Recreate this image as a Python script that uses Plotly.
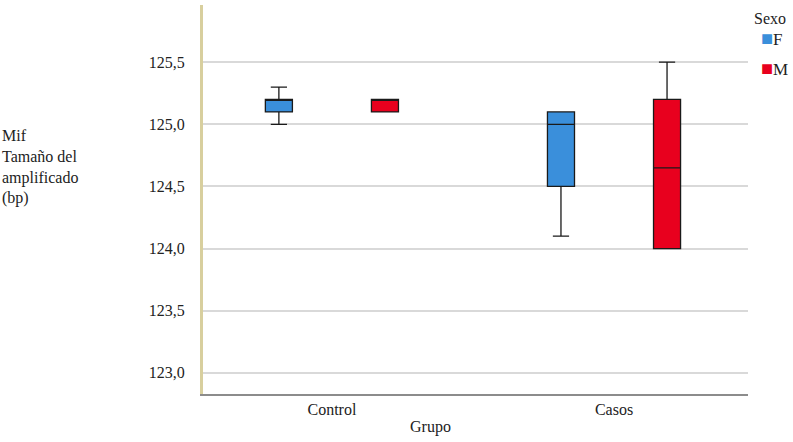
import plotly.graph_objects as go

groups = ["Control", "Casos"]
sexes = ["F", "M"]
colors = {"F": "#3a8fdb", "M": "#e8001e"}

# box statistics per sex, in order of groups
q1 = {"F": [125.1, 124.5], "M": [125.1, 124.0]}
median = {"F": [125.2, 125.0], "M": [125.2, 124.65]}
q3 = {"F": [125.2, 125.1], "M": [125.2, 125.2]}
lowerfence = {"F": [125.0, 124.1], "M": [125.1, 124.0]}
upperfence = {"F": [125.3, 125.1], "M": [125.2, 125.5]}

ytick_vals = [123.0, 123.5, 124.0, 124.5, 125.0, 125.5]

FONT = "Liberation Serif, Times New Roman, DejaVu Serif, serif"

fig = go.Figure()
for s in sexes:
    fig.add_trace(go.Box(
        x=groups, q1=q1[s], median=median[s], q3=q3[s],
        lowerfence=lowerfence[s], upperfence=upperfence[s],
        name=s, fillcolor=colors[s],
        line=dict(color="#1a1a1a", width=1.3),
        whiskerwidth=0.6, showlegend=False,
    ))

fig.update_layout(
    width=793, height=442,
    margin=dict(l=203, r=45, t=5, b=48),
    paper_bgcolor="white", plot_bgcolor="white",
    boxmode="group", boxgap=0.248, boxgroupgap=0.745,
    separators=",.",
    font=dict(family=FONT, size=16, color="#222"),
    xaxis=dict(
        range=[-0.457, 1.475],
        showgrid=False, showline=True, linecolor="#8c8c8c", linewidth=2,
        ticks="", tickfont=dict(size=16, family=FONT),
    ),
    yaxis=dict(
        range=[122.83, 125.96], tickvals=ytick_vals, tickformat=".1f",
        showgrid=True, gridcolor="#d9d9d9", gridwidth=1.5,
        showline=True, linecolor="#d8cf9e", linewidth=3,
        ticks="", ticklabelstandoff=12, tickfont=dict(size=16, family=FONT),
        zeroline=False,
    ),
)

# x-axis title
fig.add_annotation(xref="paper", yref="paper", x=(430-203)/545, y=(394-427)/389,
                   xanchor="center", yanchor="middle", showarrow=False,
                   text="Grupo", font=dict(size=16, family=FONT))

# y-axis title
fig.add_annotation(
    xref="paper", yref="paper", x=-203/545, y=(442-5-120)/389 - 48/389,
    xanchor="left", yanchor="top", align="left", showarrow=False,
    text="Mif<br>Tamaño del<br>amplificado<br>(bp)",
    font=dict(size=16, family=FONT),
)

# legend
fig.add_annotation(xref="paper", yref="paper", x=(752-203)/545, y=(394-18)/389,
                   xanchor="left", yanchor="middle", showarrow=False,
                   text="Sexo", font=dict(size=16, family=FONT))
for i, s in enumerate(sexes):
    yc = 38 + 30 * i
    fig.add_annotation(xref="paper", yref="paper", x=(759-203)/545, y=(394-yc)/389,
                       xanchor="left", yanchor="middle", showarrow=False,
                       text=f"<span style='color:{colors[s]};font-size:20px'>■</span>{s}",
                       font=dict(size=17, family=FONT))

fig.write_html("out.html")
